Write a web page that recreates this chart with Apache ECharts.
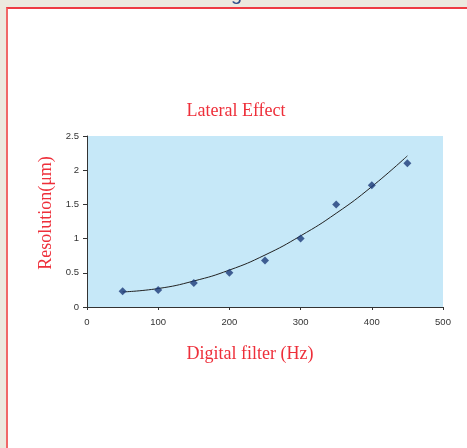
<!DOCTYPE html>
<html>
<head>
<meta charset="utf-8">
<script src="https://cdn.jsdelivr.net/npm/echarts@6/dist/echarts.min.js"></script>
<style>
  html, body { margin: 0; padding: 0; width: 467px; height: 448px; overflow: hidden; background: #ECE9DF; }
  #frame { position: absolute; left: 6px; top: 7px; width: 480px; height: 460px; background: #fff;
           border-top: 2px solid #EE3B43; border-left: 2px solid #F06868; }
  #chart { position: absolute; left: 0; top: 0; width: 467px; height: 448px; }
</style>
</head>
<body>
<div id="frame"></div>
<div id="chart"></div>
<script>
// Measured data points
const filterHz = [50, 100, 150, 200, 250, 300, 350, 400, 450];
const resolution = [0.23, 0.25, 0.35, 0.50, 0.68, 1.00, 1.50, 1.78, 2.10];
// Trend line
const trendHz = [50, 100, 150, 200, 250, 300, 350, 400, 450];
const trendRes = [0.22, 0.27, 0.38, 0.54, 0.76, 1.04, 1.37, 1.76, 2.21];
// Axis ticks
const xTicks = [0, 100, 200, 300, 400, 500];
const yTicks = [0, 0.5, 1, 1.5, 2, 2.5];

const chart = echarts.init(document.getElementById('chart'), null, { renderer: 'canvas' });
const red = '#EE2F3A';
const option = {
  backgroundColor: 'transparent',
  animation: false,
  grid: { left: 87, top: 136, width: 356, height: 171, show: true, backgroundColor: '#C6E8F8', borderWidth: 0 },
  graphic: [
    { type: 'text', left: 231, top: -16, style: { text: 'g', fontSize: 20, fontFamily: 'Liberation Sans', fill: '#2E4E8A' } },
    { type: 'text', x: 236, y: 111, style: { text: 'Lateral Effect', fontSize: 18, fontFamily: 'Liberation Serif', fill: red, align: 'center', verticalAlign: 'middle' } },
    { type: 'text', x: 250, y: 354, style: { text: 'Digital filter (Hz)', fontSize: 18, fontFamily: 'Liberation Serif', fill: red, align: 'center', verticalAlign: 'middle' } },
    { type: 'text', x: 46, y: 213, rotation: Math.PI / 2, style: { text: 'Resolution(\u03bcm)', fontSize: 18, fontFamily: 'Liberation Serif', fill: red, align: 'center', verticalAlign: 'middle' } }
  ],
  xAxis: {
    type: 'value', min: xTicks[0], max: xTicks[xTicks.length - 1], interval: 100,
    axisLine: { show: true, onZero: false, lineStyle: { color: '#333', width: 1 } },
    axisTick: { show: true, length: 3, lineStyle: { color: '#333' } },
    axisLabel: { fontSize: 9.5, fontFamily: 'Liberation Sans', color: '#333', margin: 10 },
    splitLine: { show: false }
  },
  yAxis: {
    type: 'value', min: yTicks[0], max: yTicks[yTicks.length - 1], interval: 0.5,
    axisLine: { show: true, lineStyle: { color: '#333', width: 1 } },
    axisTick: { show: true, length: 4, lineStyle: { color: '#333' } },
    axisLabel: { fontSize: 9.5, fontFamily: 'Liberation Sans', color: '#333', margin: 8 },
    splitLine: { show: false }
  },
  series: [
    {
      type: 'line', data: trendHz.map((x, i) => [x, trendRes[i]]), smooth: true, showSymbol: false,
      lineStyle: { color: '#222', width: 1 }, z: 2
    },
    {
      type: 'scatter', data: filterHz.map((x, i) => [x, resolution[i]]), symbol: 'diamond', symbolSize: 8,
      itemStyle: { color: '#1C3A78' }, z: 3
    }
  ]
};
chart.setOption(option);
</script>
</body>
</html>
